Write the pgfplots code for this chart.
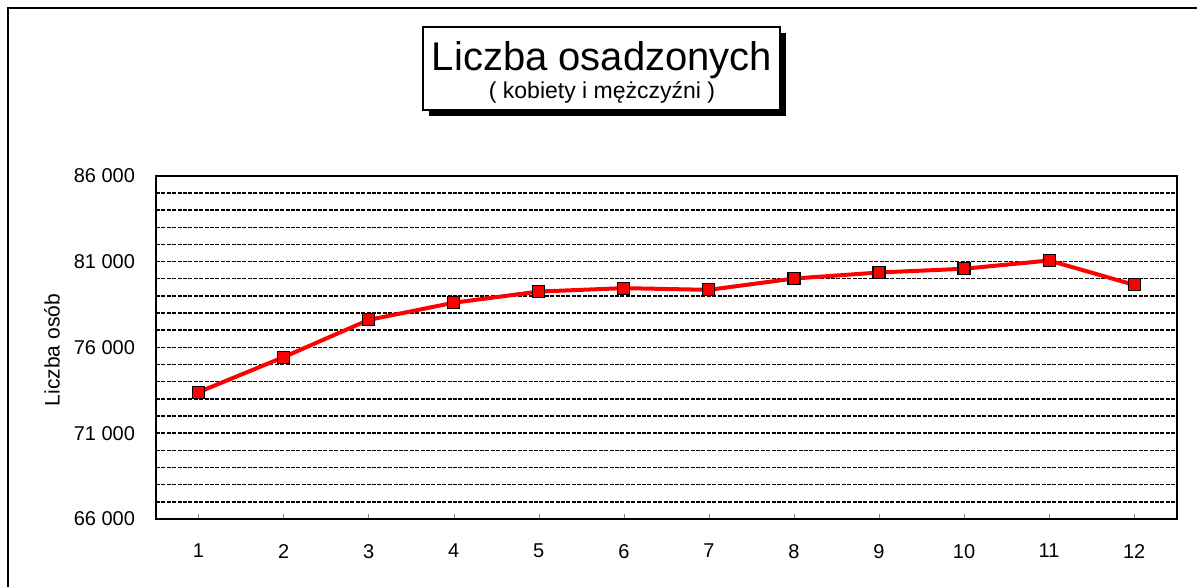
\documentclass[border=0pt]{standalone}
\usepackage{fontspec}
\setmainfont{Liberation Sans}
\usepackage{pgfplots}
\pgfplotsset{compat=1.18}
\definecolor{linered}{RGB}{255,0,0}

\begin{document}
\begin{tikzpicture}
\useasboundingbox (0,0) rectangle (598.5pt,293pt);
% outer frame (cut by the page on the right and bottom)
\draw[line width=1pt] (4pt,-20pt) rectangle (620pt,289pt);
% title box with shadow
\fill[black] (214.5pt,235pt) rectangle (393pt,276.5pt);
\draw[line width=0.9pt,fill=white] (211.5pt,238pt) rectangle (390pt,279.5pt);
\node[anchor=base,font=\fontsize{20}{22}\selectfont,inner sep=0pt] at (301pt,258pt) {Liczba osadzonych};
\node[anchor=base,font=\fontsize{11.5}{13}\selectfont,inner sep=0pt] at (301pt,244pt) {( kobiety i mężczyźni )};
% y axis label
\node[rotate=90,font=\fontsize{10.5}{12}\selectfont,inner sep=0pt] at (26pt,118pt) {Liczba osób};
\begin{axis}[
at={(78pt,33.5pt)},anchor=south west,
scale only axis,width=510.35pt,height=171.65pt,
xmin=0.5,xmax=12.5,ymin=66000,ymax=86000,
axis line style={line width=1pt},
xtick={1,2,...,12},
xtick pos=bottom,tick align=inside,
major tick length=2.5pt,
scaled y ticks=false,
ytick={66000,71000,76000,81000,86000},
yticklabels={66 000,71 000,76 000,81 000,86 000},
minor ytick={67000,68000,...,85000},
ytick style={draw=none},
ymajorgrids,yminorgrids,
major grid style={black,line width=0.7pt,dash pattern=on 2pt off 0.7pt},
minor grid style={black,line width=0.7pt,dash pattern=on 2pt off 0.7pt},
tick label style={font=\fontsize{10}{12}\selectfont},
/pgf/number format/assume math mode=true,
yticklabel style={xshift=-7pt},
xticklabel style={yshift=-9pt},
]
\addplot[linered,line width=2pt,mark=square*,mark size=3pt,mark options={fill=linered,draw=black,line width=0.6pt}] coordinates {
(1,73390)(2,75430)(3,77600)(4,78600)(5,79250)(6,79450)
(7,79350)(8,80010)(9,80360)(10,80580)(11,81060)(12,79640)};
\end{axis}
\end{tikzpicture}
\end{document}
